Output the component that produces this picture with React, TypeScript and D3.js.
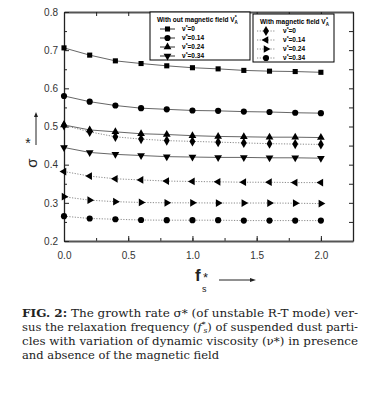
import React, { useEffect, useRef } from "react";
import {
    select,
    scaleLinear,
    axisBottom,
    axisLeft,
    axisTop,
    axisRight,
    line,
    range,
    symbol,
    symbolSquare,
    symbolCircle,
    symbolTriangle,
    symbolDiamond
} from "d3";

// relaxation frequency f_s*
const freq = [0, 0.2, 0.4, 0.6, 0.8, 1.0, 1.2, 1.4, 1.6, 1.8, 2.0];

// without magnetic field
const noField0 = [0.706, 0.687, 0.672, 0.665, 0.659, 0.654, 0.651, 0.647, 0.645, 0.644, 0.642];
const noField14 = [0.580, 0.565, 0.555, 0.548, 0.545, 0.542, 0.541, 0.539, 0.538, 0.536, 0.535];
const noField24 = [0.504, 0.491, 0.486, 0.481, 0.479, 0.476, 0.474, 0.473, 0.472, 0.472, 0.471];
const noField34 = [0.445, 0.432, 0.427, 0.424, 0.421, 0.420, 0.419, 0.419, 0.418, 0.418, 0.417];

// with magnetic field
const field0 = [0.503, 0.486, 0.473, 0.467, 0.463, 0.461, 0.459, 0.457, 0.455, 0.454, 0.453];
const field14 = [0.382, 0.370, 0.363, 0.360, 0.357, 0.356, 0.355, 0.354, 0.354, 0.353, 0.353];
const field24 = [0.316, 0.307, 0.303, 0.301, 0.300, 0.300, 0.2995, 0.2995, 0.2995, 0.299, 0.298];
const field34 = [0.265, 0.259, 0.257, 0.255, 0.2545, 0.2545, 0.2545, 0.2535, 0.2535, 0.2535, 0.2535];

const nuLabels = ["0", "0.14", "0.24", "0.34"];
const xTicks = [0, 0.5, 1.0, 1.5, 2.0];
const yTicks = [0.2, 0.3, 0.4, 0.5, 0.6, 0.7, 0.8];

const markers: any[] = [
    { type: symbolSquare, rot: 0, size: 26 },
    { type: symbolCircle, rot: 0, size: 30 },
    { type: symbolTriangle, rot: 0, size: 26 },
    { type: symbolTriangle, rot: 180, size: 26 },
    { type: symbolDiamond, rot: 0, size: 30 },
    { type: symbolTriangle, rot: -90, size: 26 },
    { type: symbolTriangle, rot: 90, size: 26 },
    { type: symbolCircle, rot: 0, size: 30 }
];

const seriesList = [
    { values: noField0, m: 0, dotted: false },
    { values: noField14, m: 1, dotted: false },
    { values: noField24, m: 2, dotted: false },
    { values: noField34, m: 3, dotted: false },
    { values: field0, m: 4, dotted: true },
    { values: field14, m: 5, dotted: true },
    { values: field24, m: 6, dotted: true },
    { values: field34, m: 7, dotted: true }
];

const FONT = "'Liberation Sans', Arial, sans-serif";

export default function App() {
    const svgRef: any = useRef();

    useEffect(() => {
        const svg = select(svgRef.current);
        const plot = svg.select(".plot");
        plot.selectAll("*").remove();

        const x = scaleLinear().domain([0, 2.25]).range([64, 353]);
        const y = scaleLinear().domain([0.2, 0.8]).range([241, 12]);

        // axes with inward ticks
        const styleAxis = (g: any, w: number, col: string) => {
            g.select(".domain").attr("stroke", col).attr("stroke-width", w);
            g.selectAll(".tick line").attr("stroke", "#222").attr("stroke-width", 1);
            g.selectAll("text")
                .attr("font-family", FONT)
                .attr("font-size", 10)
                .attr("fill", "#333");
        };

        const bottomMinor = plot.append("g").attr("transform", "translate(0,241)")
            .call(axisBottom(x).tickValues(range(0, 2.26, 0.25)).tickSize(-3).tickFormat(() => "") as any);
        bottomMinor.select(".domain").remove();
        bottomMinor.selectAll(".tick line").attr("stroke", "#222");
        const bottom = plot.append("g").attr("transform", "translate(0,241)")
            .call(axisBottom(x).tickValues(xTicks).tickSizeInner(-5).tickSizeOuter(0).tickPadding(11).tickFormat((d: any) => d.toFixed(1)) as any);
        styleAxis(bottom, 2, "#555");

        const topAx = plot.append("g").attr("transform", "translate(0,12)")
            .call(axisTop(x).tickValues(range(0.25, 2.26, 0.25)).tickSizeInner(-4).tickSizeOuter(0).tickFormat(() => "") as any);
        styleAxis(topAx, 2, "#555");

        const leftMinor = plot.append("g").attr("transform", "translate(64,0)")
            .call(axisLeft(y).tickValues(range(0.25, 0.8, 0.1)).tickSize(-3).tickFormat(() => "") as any);
        leftMinor.select(".domain").remove();
        leftMinor.selectAll(".tick line").attr("stroke", "#222");
        const left = plot.append("g").attr("transform", "translate(64,0)")
            .call(axisLeft(y).tickValues(yTicks).tickSizeInner(-5).tickSizeOuter(0).tickPadding(6).tickFormat((d: any) => d.toFixed(1)) as any);
        styleAxis(left, 1.3, "#222");

        const rightAx = plot.append("g").attr("transform", "translate(353,0)")
            .call(axisRight(y).tickValues(range(0.25, 0.8, 0.05)).tickSizeInner(-4).tickSizeOuter(0).tickFormat(() => "") as any);
        styleAxis(rightAx, 1.3, "#222");

        // series
        const lineGen = line<number>()
            .x((_, i) => x(freq[i]))
            .y((d) => y(d));

        seriesList.forEach((s) => {
            plot.append("path")
                .attr("d", lineGen(s.values) as string)
                .attr("fill", "none")
                .attr("stroke", s.dotted ? "#8a8a8a" : "#555")
                .attr("stroke-width", s.dotted ? 1 : 0.9)
                .attr("stroke-dasharray", s.dotted ? "1.2,1.5" : null);
            const mk = markers[s.m];
            plot.append("g")
                .selectAll("path")
                .data(s.values)
                .join("path")
                .attr("d", symbol().type(mk.type).size(mk.size) as any)
                .attr("transform", (d: number, i: number) => `translate(${x(freq[i])},${y(d)}) rotate(${mk.rot})`)
                .attr("fill", "#000");
        });

        // legends
        const legend = (gx: number, gy: number, w: number, h: number, title: string, offset: number, dotted: boolean) => {
            const g = plot.append("g").attr("transform", `translate(${gx},${gy})`);
            g.append("rect").attr("width", w).attr("height", h)
                .attr("fill", "#fff").attr("stroke", "#000").attr("stroke-width", 1);
            const t = g.append("text").attr("x", 7).attr("y", 10)
                .attr("font-family", FONT).attr("font-size", 6.5).attr("font-weight", "bold");
            t.append("tspan").text(title);
            t.append("tspan").attr("font-size", 4.5).attr("dy", 2).text("A");
            t.append("tspan").attr("font-size", 5).attr("dx", -3).attr("dy", -5).text("*");
            nuLabels.forEach((lab, i) => {
                const ry = 17 + i * 9;
                g.append("line")
                    .attr("x1", dotted ? 4 : 10).attr("x2", dotted ? 22 : 25)
                    .attr("y1", ry).attr("y2", ry)
                    .attr("stroke", dotted ? "#8a8a8a" : "#333")
                    .attr("stroke-width", 1)
                    .attr("stroke-dasharray", dotted ? "1.2,1.5" : null);
                const mk = markers[offset + i];
                g.append("path")
                    .attr("d", symbol().type(mk.type).size(mk.size) as any)
                    .attr("transform", `translate(${dotted ? 13 : 17.5},${ry}) rotate(${mk.rot})`)
                    .attr("fill", "#000");
                const lt = g.append("text").attr("x", dotted ? 30 : 32).attr("y", ry + 2.3)
                    .attr("font-family", FONT).attr("font-size", 6.5).attr("font-weight", "bold");
                lt.append("tspan").text("ν");
                lt.append("tspan").attr("font-size", 5).attr("dy", -2).text("*");
                lt.append("tspan").attr("dy", 2).text("=" + lab);
            });
        };
        legend(150, 12, 100, 48, "With out magnetic field V", 0, false);
        legend(253, 14, 81, 48, "With  magnetic field V", 4, true);
    }, []);

    return (
        <svg
            ref={svgRef}
            width={369}
            height={398}
            style={{ position: "absolute", left: 0, top: 0, background: "#fff" }}
        >
            <rect width={369} height={398} fill="#fff" />
            <g className="plot" />
            {/* y axis title */}
            <text
                transform="translate(37,163) rotate(-90)"
                fontFamily={FONT}
                fontSize={15}
                textAnchor="middle"
                fill="#222"
            >
                σ
            </text>
            <text x={28} y={148} fontFamily={FONT} fontSize={14} textAnchor="middle" fill="#222">*</text>
            <line x1={36} x2={36} y1={145} y2={115} stroke="#222" strokeWidth={1} />
            <path d="M36,112 L34,117 L38,117 Z" fill="#222" />
            {/* x axis title */}
            <text x={195} y={281} fontFamily={FONT} fontSize={17} fontWeight="bold" fill="#222">f</text>
            <text x={203} y={282} fontFamily={FONT} fontSize={13} fill="#222">*</text>
            <text x={202} y={292} fontFamily={FONT} fontSize={9} fill="#222">s</text>
            <line x1={219} x2={252} y1={280} y2={280} stroke="#222" strokeWidth={1} />
            <path d="M256,280 L250,278 L250,282 Z" fill="#222" />
            {/* caption */}
            <g fontFamily="'DejaVu Serif', 'Liberation Serif', serif" fontSize={11.5} fill="#222">
                <text x={22} y={317} textLength={336} lengthAdjust="spacingAndGlyphs">
                    <tspan fontWeight="bold">FIG. 2:</tspan>
                    <tspan> The growth rate σ* (of unstable R-T mode) ver-</tspan>
                </text>
                <text x={22} y={331} textLength={336} lengthAdjust="spacingAndGlyphs">
                    sus the relaxation frequency (<tspan fontStyle="italic">f</tspan>
                    <tspan fontSize={7.5} dy={-4}>*</tspan>
                    <tspan fontSize={7.5} dx={-2} dy={6} fontStyle="italic">s</tspan>
                    <tspan dy={-2}>) of suspended dust parti-</tspan>
                </text>
                <text x={22} y={345} textLength={336} lengthAdjust="spacingAndGlyphs">
                    cles with variation of dynamic viscosity (ν*) in presence
                </text>
                <text x={22} y={359}>and absence of the magnetic field</text>
            </g>
        </svg>
    );
}
